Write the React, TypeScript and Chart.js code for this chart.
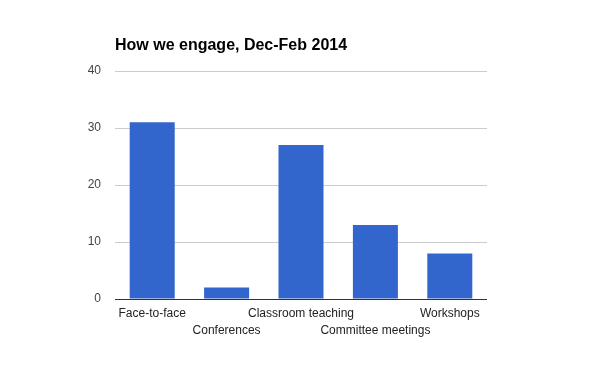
import React, { useEffect, useRef } from "react";
import { Chart, registerables } from "chart.js";

Chart.register(...registerables);

const categories = ["Face-to-face", "Conferences", "Classroom teaching", "Committee meetings", "Workshops"];
const values = [31, 2, 27, 13, 8];
const yTicks = [0, 10, 20, 30, 40];
const titleText = "How we engage, Dec-Feb 2014";

const titlePlugin = {
  id: "customTitle",
  afterDraw(chart: any) {
    const ctx = chart.ctx;
    ctx.save();
    ctx.font = "bold 16px Arial, 'Liberation Sans', sans-serif";
    ctx.fillStyle = "#000000";
    ctx.textAlign = "left";
    ctx.textBaseline = "alphabetic";
    ctx.fillText(titleText, chart.chartArea.left, 50);
    ctx.restore();
  },
};

export default function App() {
  const ref = useRef<HTMLCanvasElement>(null);
  useEffect(() => {
    if (!ref.current) return;
    const labels = categories.map((c, i) => (i % 2 === 0 ? [c, ""] : ["", c]));
    const chart = new Chart(ref.current, {
      type: "bar",
      data: {
        labels,
        datasets: [
          {
            data: values,
            backgroundColor: "#3366CC",
            borderWidth: 0,
            categoryPercentage: 1,
            barPercentage: 0.605,
          },
        ],
      },
      plugins: [titlePlugin],
      options: {
        animation: false,
        responsive: false,
        maintainAspectRatio: false,
        layout: { padding: { left: 0, top: 71, right: 113, bottom: 22 } },
        plugins: { legend: { display: false }, tooltip: { enabled: false } },
        scales: {
          x: {
            grid: { display: false, drawTicks: false },
            border: { display: false },
            ticks: {
              autoSkip: false,
              maxRotation: 0,
              minRotation: 0,
              padding: 7,
              color: "#222222",
              font: { family: "Arial, 'Liberation Sans', sans-serif", size: 12, lineHeight: 1.35 },
            },
            afterFit: (s: any) => {
              s.height = 50;
            },
          },
          y: {
            min: 0,
            max: 40,
            afterBuildTicks: (s: any) => {
              s.ticks = yTicks.map((v) => ({ value: v }));
            },
            grid: {
              drawTicks: false,
              color: (c: any) => (c.tick && c.tick.value === 0 ? "#333333" : "#cccccc"),
              lineWidth: 1,
            },
            border: { display: false },
            ticks: {
              padding: 14,
              color: "#444444",
              font: { family: "Arial, 'Liberation Sans', sans-serif", size: 12 },
            },
            afterFit: (s: any) => {
              s.width = 115;
            },
          },
        },
      },
    });
    return () => chart.destroy();
  }, []);
  return (
    <div style={{ position: "fixed", left: 0, top: 0, width: 600, height: 371, background: "#fff" }}>
      <canvas ref={ref} width={600} height={371} style={{ width: 600, height: 371 }} />
    </div>
  );
}
